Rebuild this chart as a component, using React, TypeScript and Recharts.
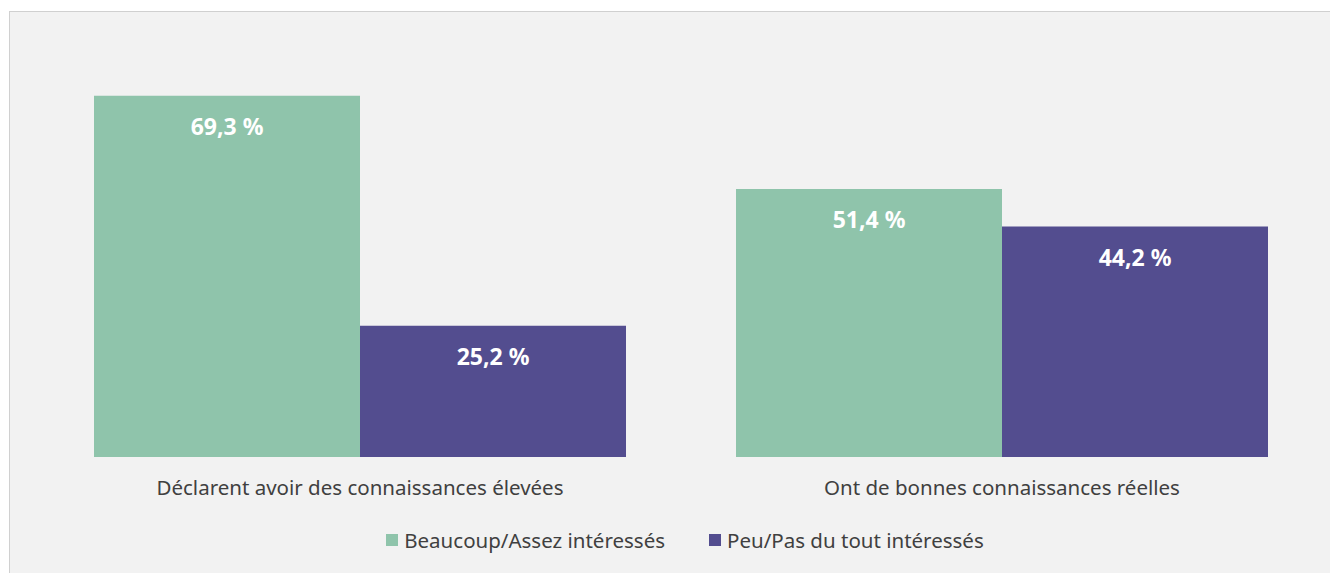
import { Bar, BarChart, LabelList, Legend, XAxis, YAxis } from "recharts";

const CATEGORIES = [
  "Déclarent avoir des connaissances élevées",
  "Ont de bonnes connaissances réelles",
];
const INTERESSES = [69.3, 51.4];
const PEU_INTERESSES = [25.2, 44.2];
const SERIES = [
  { key: "interesses", name: "Beaucoup/Assez intéressés", color: "#8fc4ab" },
  { key: "peu", name: "Peu/Pas du tout intéressés", color: "#534d8f" },
];

const FONT = "'Noto Sans', 'Open Sans', sans-serif";
const INK = "#404040";

const data = CATEGORIES.map((category, i) => ({
  category,
  interesses: INTERESSES[i],
  peu: PEU_INTERESSES[i],
}));

const fmt = (v: number) => v.toFixed(1).replace(".", ",") + " %";

function ValueLabel(props: any) {
  const { x, y, width, value } = props;
  return (
    <text
      x={x + width / 2}
      y={y + 30}
      textAnchor="middle"
      dominantBaseline="central"
      fill="#ffffff"
      fontFamily={FONT}
      fontWeight={700}
      fontSize={23}
    >
      {fmt(value)}
    </text>
  );
}

function LegendContent() {
  return (
    <div
      style={{
        display: "flex",
        justifyContent: "center",
        gap: 44,
        paddingTop: 6,
        paddingLeft: 8,
        height: 44,
        fontFamily: FONT,
        fontSize: 20.5,
        color: INK,
      }}
    >
      {SERIES.map((s) => (
        <div key={s.key} style={{ display: "flex", alignItems: "center", height: 22 }}>
          <span style={{ width: 12, height: 12, background: s.color, marginRight: 6 }} />
          <span>{s.name}</span>
        </div>
      ))}
    </div>
  );
}

export default function App() {
  return (
    <div
      style={{
        position: "relative",
        top: 3,
        left: 1,
        width: 1340,
        height: 570,
        border: "1px solid #d0d0d0",
        background: "#f2f2f2",
      }}
    >
      <BarChart
        width={1328}
        height={561}
        data={data}
        margin={{ top: 28, right: 15, bottom: 0, left: 29 }}
        barCategoryGap={55}
        barGap={0}
      >
        <XAxis
          dataKey="category"
          axisLine={false}
          tickLine={false}
          tickSize={0}
          tickMargin={23}
          height={66}
          interval={0}
          tick={{ fontFamily: FONT, fontSize: 20.5, fill: INK }}
        />
        <YAxis hide domain={[0, 80]} />
        <Legend verticalAlign="bottom" height={50} content={<LegendContent />} />
        {SERIES.map((s) => (
          <Bar key={s.key} dataKey={s.key} name={s.name} fill={s.color} isAnimationActive={false}>
            <LabelList dataKey={s.key} content={<ValueLabel />} />
          </Bar>
        ))}
      </BarChart>
    </div>
  );
}
